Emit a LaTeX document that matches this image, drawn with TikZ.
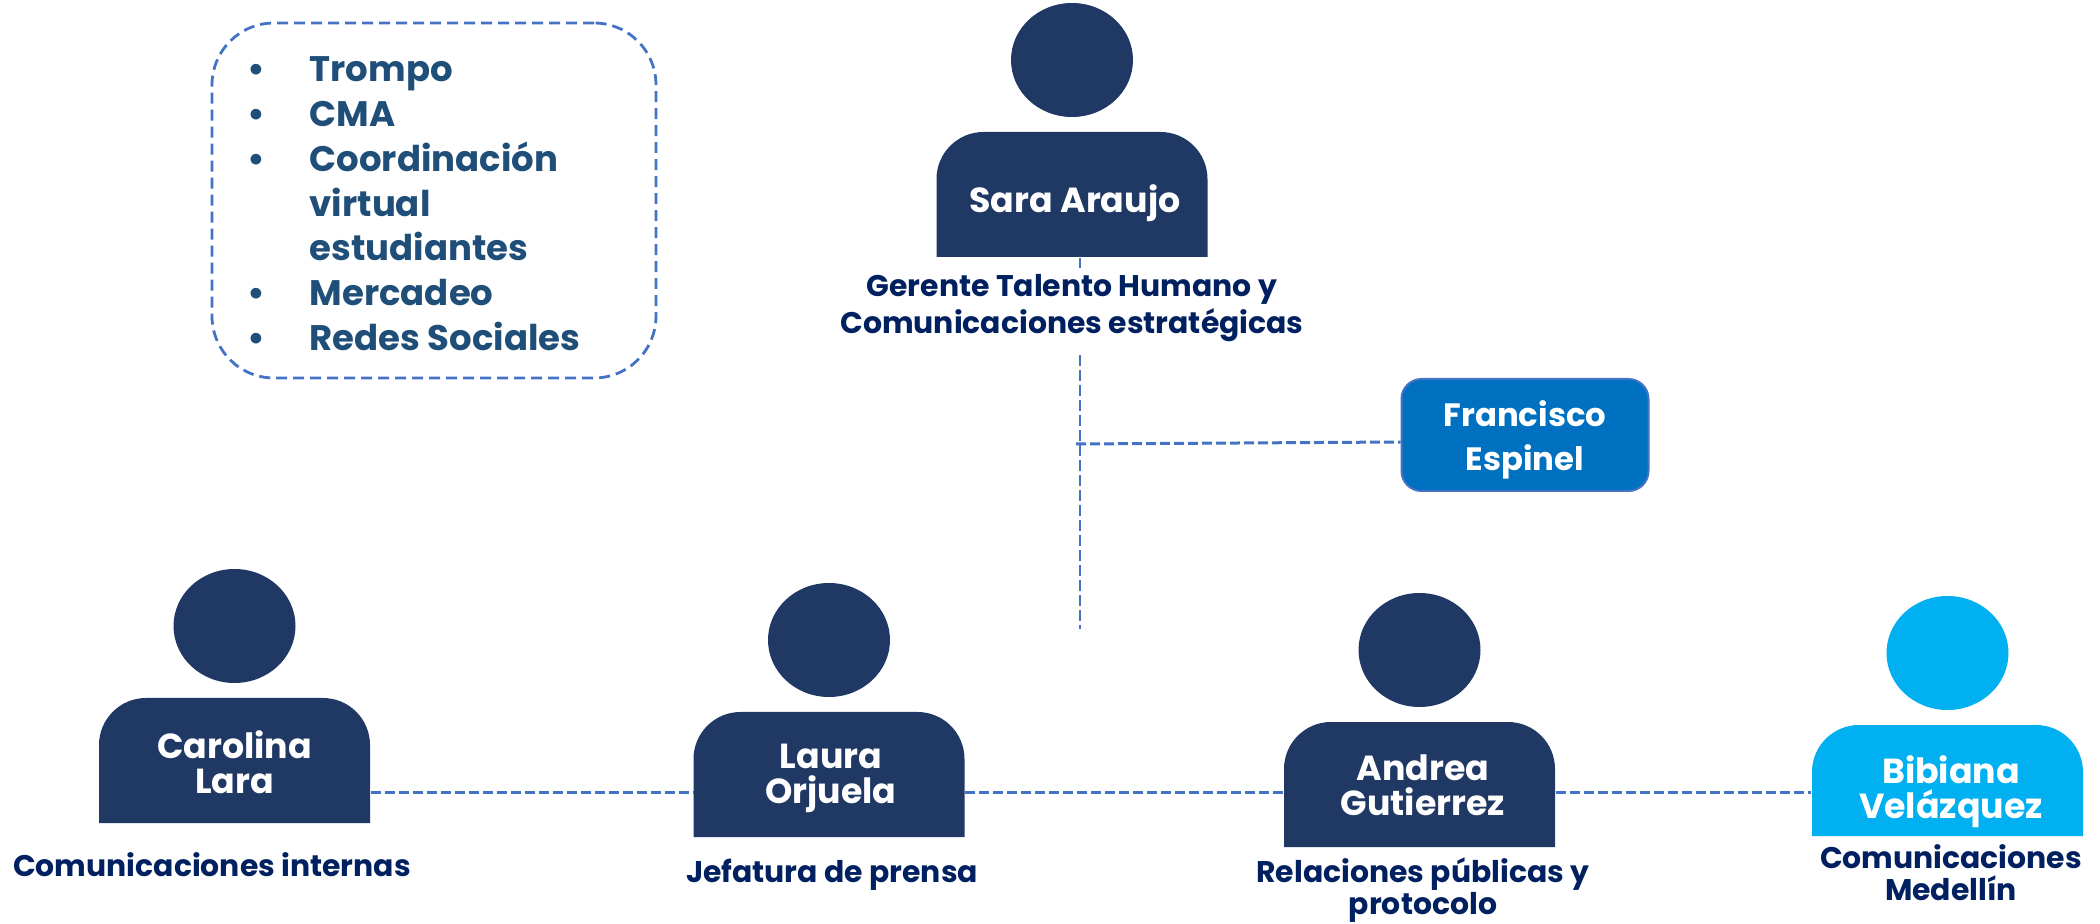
\documentclass[tikz,border=0pt]{standalone}
\usepackage{fontspec}
\setmainfont{Poppins}
\usetikzlibrary{calc}
\definecolor{navybody}{HTML}{203864}
\definecolor{skybody}{HTML}{00B0F0}
\definecolor{rolenavy}{HTML}{002060}
\definecolor{listblue}{HTML}{1F4E79}
\definecolor{linkblue}{HTML}{4472C4}
\definecolor{boxblue}{HTML}{0070C0}
\tikzset{
	link/.style={color=linkblue, line width=0.02cm, dash pattern=on 0.11cm off 0.04cm},
	rowlink/.style={link, line width=0.03cm, dash pattern=on 0.1cm off 0.04cm},
	namelabel/.style={inner sep=0, align=center, text=white, font=\bfseries\fontsize{9.9}{10}\selectfont},
	rolelabel/.style={inner sep=0, align=center, text=rolenavy, font=\bfseries\fontsize{8.5}{9.1}\selectfont},
}
\def\persona[#1](#2,#3,#4)#5#6{
	\fill[#1] (#2, #3+0.72) ellipse (0.61 and 0.57);
	\fill[#1] (#2-1.355, #3-#4) -- (#2-1.355, #3-0.47) arc (180:90:0.47) -- (#2+0.885, #3) arc (90:0:0.47) -- (#2+1.355, #3-#4) -- cycle;
	\node[minimum width=2.71cm, minimum height=#4 cm, inner sep=0] (#5) at (#2, #3-#4/2) {};
}
\begin{document}
\begin{tikzpicture}
			%%%%% START %%%%%
			\useasboundingbox (0, 0) rectangle (21, 9.23);
			
			\node[draw=linkblue, line width=0.028cm, dash pattern=on 0.11cm off 0.06cm, rounded corners=0.62cm, minimum width=4.44cm, minimum height=3.55cm, inner sep=0] (tareas) at (4.34, 7.225) {};
			\node[inner sep=0, anchor=north west, text=listblue, font=\bfseries\fontsize{10.1}{12.72}\selectfont] (tareastexto) at (2.47, 8.73) {\begin{tabular}{@{}p{0.62cm}@{}l@{}}
				• & Trompo\\
				• & CMA\\
				• & Coordinación\\
				 & virtual\\
				 & estudiantes\\
				• & Mercadeo\\
				• & Redes Sociales
			\end{tabular}};
			
			\persona[navybody](10.72, 7.91, 1.25){sara}{}
			\node[namelabel] (saraname) at (10.75, 7.20) {Sara Araujo};
			\node[rolelabel] (sararole) at (10.72, 6.15) {Gerente Talento Humano y\\Comunicaciones estratégicas};
			
			\node[draw=linkblue, fill=boxblue, line width=0.02cm, rounded corners=0.2cm, minimum width=2.47cm, minimum height=1.12cm, inner sep=0] (francisco) at (15.25, 4.88) {};
			\node[namelabel, font=\bfseries\fontsize{9.2}{12.4}\selectfont] (francisconame) at (15.25, 4.83) {Francisco\\Espinel};
			
			\coordinate (stemcut) at (10.80, 6.55);
			\coordinate (stemtop) at (10.80, 5.68);
			\coordinate (stemjoin) at (10.76, 4.79);
			\coordinate (stembottom) at (10.80, 2.94);
			\draw[link] (sara.south -| stemcut) -- (stemcut);
			\draw[link] (stemtop) -- (stembottom);
			\draw[rowlink] (stemjoin) -- ($(francisco.west)+(0,-0.07)$);
			
			\persona[navybody](2.345, 2.25, 1.25){carolina}{}
			\node[namelabel] (carolinaname) at (2.345, 1.61) {Carolina\\Lara};
			\node[rolelabel] (carolinarole) at (2.12, 0.58) {Comunicaciones internas};
			
			\persona[navybody](8.29, 2.11, 1.25){laura}{}
			\node[namelabel] (lauraname) at (8.31, 1.45) {Laura\\Orjuela};
			\node[rolelabel] (laurarole) at (8.32, 0.48) {Jefatura de prensa};
			
			\persona[navybody](14.195, 2.01, 1.25){andrea}{}
			\node[namelabel] (andreaname) at (14.23, 1.38) {Andrea\\Gutierrez};
			\node[rolelabel] (andrearole) at (14.23, 0.33) {Relaciones públicas y\\protocolo};
			
			\persona[skybody](19.475, 1.98, 1.11){bibiana}{}
			\node[namelabel] (bibiananame) at (19.51, 1.31) {Bibiana\\Velázquez};
			\node[rolelabel] (bibianarole) at (19.51, 0.50) {Comunicaciones\\Medellín};
			
			\coordinate (rowline) at (0, 1.31);
			\draw[rowlink] (carolina.east |- rowline) -- (laura.west |- rowline);
			\draw[rowlink] (laura.east |- rowline) -- (andrea.west |- rowline);
			\draw[rowlink] (andrea.east |- rowline) -- (bibiana.west |- rowline);
			
			%%%%% END %%%%%
		\end{tikzpicture}
\end{document}
